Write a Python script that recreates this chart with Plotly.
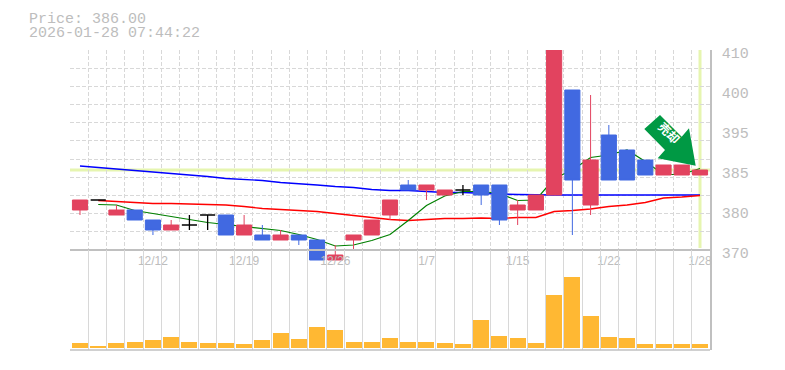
import plotly.graph_objects as go

dates = ["12/5","12/8","12/9","12/10","12/11","12/12","12/15","12/16","12/17","12/18","12/19","12/22","12/23","12/24","12/25","12/26",
         "12/29","12/30","1/5","1/6","1/7","1/8","1/9","1/13","1/14","1/15","1/16","1/19","1/20","1/21","1/22","1/23","1/26","1/27","1/28"]
opens  = [378,380,377,378,376,374,375,377,377,373,373,372,373,372,368,372,373,377,383,382,381,382,383,383,378,378,381,402,379,393,390,388,385,385,385]
highs  = [380,380,379,378,376,376,377,377,377,377,375,374,373,372,371,373,376,380,384,383,382,383,383,383,380,381,420,402,401,395,390,388,387,387,386]
lows   = [377,380,377,376,373,374,374,374,373,373,372,372,371,368,368,370,373,376,382,380,381,381,379,375,375,378,381,373,377,384,384,385,385,385,385]
closes = [380,380,378,376,374,375,375,377,373,375,372,373,372,368,369,373,376,380,382,383,382,382,381,376,379,381,420,384,388,384,384,385,387,387,386]
volumes = [5,2,5,6,8,11,6,5,5,4,8,15,9,21,18,6,6,10,6,6,5,4,28,12,10,5,53,71,32,11,10,4,4,4,4]
ma_blue = [386.8,386.5,386.3,385.9,385.7,385.3,385,384.7,384.3,384.1,383.9,383.5,383.3,383,382.7,382.5,382.1,381.9,381.9,381.7,
           381.5,381.5,381.3,381.2,381.1,381,381,381,381,381,381,381,381,381,381]
ma_red = [None,379.9,379.7,379.5,379.3,379.3,379.2,379.1,379,378.7,378.3,378.1,377.9,377.7,377.3,376.9,376.5,376.1,375.9,376.1,
          376.3,376.3,376.4,376.3,376.5,376.5,377.7,377.9,378.2,378.7,379,379.5,380.4,380.6,380.9]
ma_green = [None,379.1,379,377.9,377.3,376.7,376,375.5,375.1,374.7,374.3,373.9,373.1,372.1,370.8,371,371.9,373.1,375.9,378.9,
            380.8,381.7,381.7,381.3,379.9,380,384.3,386,388.5,389,390,387.7,385.1,385.1,386.3]
price = 386.00
stamp = "2026-01-28 07:44:22"
x_label_idx = [4,9,14,19,24,29,34]
x_labels = ["12/12","12/19","12/26","1/7","1/15","1/22","1/28"]
y_tick_vals = [410,402,394,386,378,370]
y_tick_text = ["410","400","395","385","380","370"]

PAGE = 8  # page body margin in the browser
L, T, W, H = 70, 50, 640, 300
FIG_W, FIG_H = 785 - 2 * PAGE, 370 - 2 * PAGE
def px(x): return (x - L) / W
def py(y): return (T + H - y) / H

idx = list(range(len(dates)))
lo, hi = -0.548, 34.548
GRID = "#d8d8d8"
TXT = "#bdbdbd"
x_grid = [lo + k * (hi - lo) / 35 for k in range(36)]
y_grid = [370 + k * 40 / 11 for k in range(12)]

fig = go.Figure()
for vals, col, w in [(ma_blue, "#0000ff", 1.4), (ma_red, "#ff0000", 1.4), (ma_green, "#008000", 1.2)]:
    fig.add_trace(go.Scatter(x=idx, y=vals, mode="lines", line=dict(color=col, width=w), yaxis="y", hoverinfo="skip"))

body = [i for i in idx if opens[i] != closes[i]]
doji = [i for i in idx if opens[i] == closes[i]]
fig.add_trace(go.Candlestick(
    x=body, open=[opens[i] for i in body], high=[highs[i] for i in body],
    low=[lows[i] for i in body], close=[closes[i] for i in body], yaxis="y3", whiskerwidth=0,
    increasing=dict(line=dict(color="#e2435f", width=1), fillcolor="#e2435f"),
    decreasing=dict(line=dict(color="#4169e1", width=1), fillcolor="#4169e1")))
fig.add_trace(go.Candlestick(
    x=doji, open=[opens[i] for i in doji], high=[highs[i] for i in doji],
    low=[lows[i] for i in doji], close=[closes[i] for i in doji], yaxis="y3", whiskerwidth=0,
    increasing=dict(line=dict(color="#000000", width=1.3), fillcolor="#000000"),
    decreasing=dict(line=dict(color="#000000", width=1.3), fillcolor="#000000")))
fig.add_trace(go.Bar(x=idx, y=volumes, yaxis="y2", width=0.877, marker=dict(color="#ffb833", line=dict(width=0))))

arrow_pts = [(660,115),(681.7,136.7),(689,128.3),(695.7,165.7),(657.7,158.3),(665,150),(644.3,129)]
arrow = "M " + " L ".join(f"{px(a)} {py(b)}" for a, b in arrow_pts) + " Z"

fig.update_layout(
    width=FIG_W, height=FIG_H,
    margin=dict(l=L-PAGE, r=FIG_W-(L-PAGE)-W, t=T-PAGE, b=FIG_H-(T-PAGE)-H),
    paper_bgcolor="white", plot_bgcolor="rgba(0,0,0,0)", showlegend=False, hovermode=False, bargap=0,
    boxgap=0.17, boxgroupgap=0, boxmode="overlay",
    xaxis=dict(range=[lo, hi], anchor="free", position=py(250), tickmode="array", tickvals=x_label_idx, ticktext=x_labels,
               showgrid=False, zeroline=False, showline=True, linecolor="#c0c0c0", linewidth=1.5, ticks="",
               tickfont=dict(family="Liberation Sans", size=12, color=TXT), rangeslider=dict(visible=False),
               minor=dict(tickmode="array", tickvals=x_grid, showgrid=True, gridcolor=GRID, griddash="4px,2px", gridwidth=1, ticks="")),
    yaxis=dict(range=[350, 410], domain=[0, 1], side="right", anchor="x", tickmode="array", tickvals=y_tick_vals, ticktext=y_tick_text,
               showgrid=False, zeroline=False, showline=True, linecolor="#c0c0c0", linewidth=1.5, ticks="",
               ticklabelstandoff=7, ticklabelshift=3,
               tickfont=dict(family="Liberation Mono", size=15, color=TXT),
               minor=dict(tickmode="array", tickvals=y_grid, showgrid=True, gridcolor=GRID, griddash="4px,2px", gridwidth=1, ticks="")),
    yaxis2=dict(range=[-2, 98], domain=[0, 1/3], anchor="x", showgrid=False, zeroline=False, showticklabels=False, ticks=""),
    yaxis3=dict(range=[350, 410], overlaying="y", side="left", showgrid=False, zeroline=False, showticklabels=False, ticks="", anchor="x"),
    shapes=[
        dict(type="line", xref="x", yref="y", x0=lo, x1=hi, y0=price, y1=price, line=dict(color="#e6f5b0", width=3), layer="below"),
        dict(type="line", xref="x", yref="y", x0=34, x1=34, y0=370.4, y1=410, line=dict(color="#e6f5b0", width=3), layer="below"),
        dict(type="line", xref="paper", yref="paper", x0=0, x1=1, y0=0, y1=0, line=dict(color="#c0c0c0", width=1.5)),
        dict(type="path", xref="paper", yref="paper", path=arrow, fillcolor="#009944", line=dict(width=0), layer="above"),
    ],
    annotations=[
        dict(text=f"Price: {price:.2f}", xref="paper", yref="paper", x=px(27), y=py(19), xanchor="left", yanchor="middle",
             showarrow=False, font=dict(family="Liberation Mono", size=15, color=TXT)),
        dict(text=stamp, xref="paper", yref="paper", x=px(27), y=py(33), xanchor="left", yanchor="middle",
             showarrow=False, font=dict(family="Liberation Mono", size=15, color=TXT)),
        dict(text="<b>売却</b>", xref="paper", yref="paper", x=px(670), y=py(132), xanchor="center", yanchor="middle", textangle=45,
             showarrow=False, font=dict(family="Noto Sans CJK JP", size=12, color="white")),
    ],
)
fig.write_html("out.html")
